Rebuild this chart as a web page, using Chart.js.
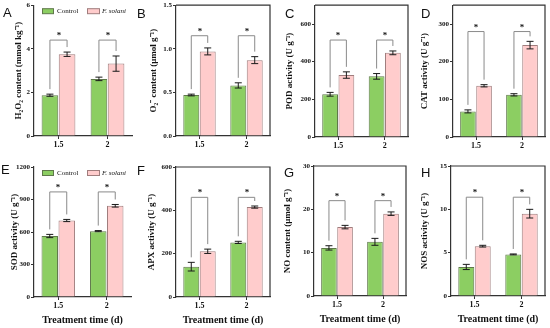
<!DOCTYPE html>
<html><head><meta charset="utf-8">
<script src="https://cdn.jsdelivr.net/npm/chart.js@4/dist/chart.umd.min.js"></script>
<style>
html,body{margin:0;padding:0;background:#fff;}
#wrap{position:relative;width:550px;height:328px;overflow:hidden;background:#fff;}
#wrap canvas{position:absolute;left:0;top:0;}
.lbl{position:absolute;font-family:'Liberation Sans',Arial,sans-serif;font-size:13px;line-height:13px;color:#111;}
</style></head><body>
<div id="wrap"></div>
<script>
// ---------- data ----------
const categories = ['1.5', '2'];
const seriesLabels = ['Control', 'F. solani'];

const h2o2Control = [1.87, 2.62], h2o2ControlSd = [0.05, 0.08];
const h2o2Fsolani = [3.75, 3.32], h2o2FsolaniSd = [0.10, 0.35];

const o2Control = [0.47, 0.58], o2ControlSd = [0.01, 0.03];
const o2Fsolani = [0.97, 0.87], o2FsolaniSd = [0.04, 0.04];

const podControl = [227, 322], podControlSd = [10, 15];
const podFsolani = [329, 447], podFsolaniSd = [17, 10];

const catControl = [68, 112], catControlSd = [4, 3];
const catFsolani = [136, 244], catFsolaniSd = [3, 10];

const sodControl = [563, 608], sodControlSd = [15, 5];
const sodFsolani = [706, 842], sodFsolaniSd = [10, 12];

const apxControl = [140, 252], apxControlSd = [20, 5];
const apxFsolani = [211, 415], apxFsolaniSd = [10, 5];

const noControl = [11.1, 12.5], noControlSd = [0.5, 0.8];
const noFsolani = [15.9, 19.0], noFsolaniSd = [0.4, 0.4];

const nosControl = [3.35, 4.8], nosControlSd = [0.3, 0.05];
const nosFsolani = [5.75, 9.5], nosFsolaniSd = [0.1, 0.5];

const panelLetters = ['A', 'B', 'C', 'D', 'E', 'F', 'G', 'H'];
const yTitles = [
  'H\u2082O\u2082 content (mmol kg\u207B\u00B9)',
  'O\u2082\u207B content (\u03BCmol g\u207B\u00B9)',
  'POD activity (U g\u207B\u00B9)',
  'CAT activity (U g\u207B\u00B9)',
  'SOD activity (U g\u207B\u00B9)',
  'APX activity (U g\u207B\u00B9)',
  'NO content (\u03BCmol g\u207B\u00B9)',
  'NOS activity (U g\u207B\u00B9)'
];
const yMax = [6, 1.5, 700, 350, 1200, 600, 30, 15];
const yStep = [2, 0.5, 200, 100, 300, 200, 10, 5];
const yDecimals = [0, 1, 0, 0, 0, 0, 0, 0];
const bracketLevels = [4.4, 1.15, 515, 280, 970, 460, 22, 11.4];
const xTitle = 'Treatment time (d)';

const controlSeries = [h2o2Control, o2Control, podControl, catControl, sodControl, apxControl, noControl, nosControl];
const controlSd = [h2o2ControlSd, o2ControlSd, podControlSd, catControlSd, sodControlSd, apxControlSd, noControlSd, nosControlSd];
const fsolaniSeries = [h2o2Fsolani, o2Fsolani, podFsolani, catFsolani, sodFsolani, apxFsolani, noFsolani, nosFsolani];
const fsolaniSd = [h2o2FsolaniSd, o2FsolaniSd, podFsolaniSd, catFsolaniSd, sodFsolaniSd, apxFsolaniSd, noFsolaniSd, nosFsolaniSd];

// ---------- layout (pixels) ----------
const layout = [
  {L: 34,  R: 132, T: 5,   B: 136, yw: 20.4, frame: false, legend: true,  xt: false, letter: [3, 5.6]},
  {L: 176, R: 270, T: 5,   B: 136, yw: 27.4, frame: true,  legend: false, xt: false, letter: [137, 6.6]},
  {L: 315, R: 408, T: 5,   B: 137, yw: 30.4, frame: true,  legend: false, xt: false, letter: [285, 6.6]},
  {L: 453, R: 545, T: 5,   B: 137, yw: 33.4, frame: true,  legend: false, xt: false, letter: [421, 6.6]},
  {L: 34,  R: 131, T: 167, B: 297, yw: 24.4, frame: false, legend: true,  xt: true,  letter: [1, 162.6]},
  {L: 176, R: 270, T: 167, B: 297, yw: 29.4, frame: true,  legend: false, xt: true,  letter: [137, 163.6]},
  {L: 314, R: 406, T: 166, B: 296, yw: 31.4, frame: true,  legend: false, xt: true,  letter: [284, 165.6]},
  {L: 451, R: 545, T: 166, B: 296, yw: 31.4, frame: true,  legend: false, xt: true,  letter: [421, 165.6]}
];

const GREEN = 'rgb(140,206,98)', GREEN_B = 'rgb(95,120,75)';
const PINK = 'rgb(255,204,204)', PINK_B = 'rgb(160,125,125)';
const AXIS = '#333';
const SERIF = "'Liberation Serif','Times New Roman',serif";

const extras = {
  id: 'extras',
  afterDatasetsDraw(chart, args, o) {
    const ctx = chart.ctx, y = chart.scales.y, ca = chart.chartArea;
    const ds = chart.data.datasets;
    const m0 = chart.getDatasetMeta(0), m1 = chart.getDatasetMeta(1);
    ctx.save();
    // error bars
    ds.forEach((d, di) => {
      const meta = chart.getDatasetMeta(di);
      d.data.forEach((v, i) => {
        const x = meta.data[i].x;
        const yt = y.getPixelForValue(v + d.sd[i]);
        const yb = y.getPixelForValue(v - d.sd[i]);
        ctx.strokeStyle = '#1a1a1a'; ctx.lineWidth = 1;
        ctx.beginPath();
        ctx.moveTo(x, yt); ctx.lineTo(x, yb);
        ctx.moveTo(x - 3.5, yt); ctx.lineTo(x + 3.5, yt);
        ctx.moveTo(x - 3.5, yb); ctx.lineTo(x + 3.5, yb);
        ctx.stroke();
      });
    });
    // significance brackets
    const lvl = y.getPixelForValue(o.bracket);
    categories.forEach((c, i) => {
      const xl = m0.data[i].x, xr = m1.data[i].x;
      const yl = y.getPixelForValue(ds[0].data[i] + ds[0].sd[i]) - 5;
      const yr = y.getPixelForValue(ds[1].data[i] + ds[1].sd[i]) - 5;
      ctx.strokeStyle = '#8a8a8a'; ctx.lineWidth = 1;
      ctx.beginPath();
      ctx.moveTo(xl, yl); ctx.lineTo(xl, lvl); ctx.lineTo(xr, lvl); ctx.lineTo(xr, yr);
      ctx.stroke();
      ctx.fillStyle = '#111';
      ctx.font = 'bold 9px ' + SERIF;
      ctx.textAlign = 'center'; ctx.textBaseline = 'alphabetic';
      ctx.fillText('*', Math.round((xl + xr) / 2), Math.round(lvl - 2));
    });
    // legend
    if (o.legend) {
      const ly = ca.top + 6;
      ctx.font = '7px ' + SERIF;
      ctx.textBaseline = 'middle'; ctx.textAlign = 'left';
      ctx.lineWidth = 1;
      ctx.fillStyle = GREEN; ctx.fillRect(ca.left + 8, ly - 2.5, 11, 5);
      ctx.strokeStyle = GREEN_B; ctx.strokeRect(ca.left + 8.5, ly - 2.5, 11, 5);
      ctx.fillStyle = '#111'; ctx.fillText(ds[0].label, ca.left + 23, ly);
      ctx.fillStyle = PINK; ctx.fillRect(ca.left + 53, ly - 2.5, 12, 5);
      ctx.strokeStyle = PINK_B; ctx.strokeRect(ca.left + 53.5, ly - 2.5, 12, 5);
      ctx.fillStyle = '#111'; ctx.font = 'italic 7px ' + SERIF;
      ctx.fillText(ds[1].label, ca.left + 68, ly);
    }
    ctx.restore();
  },
  afterDraw(chart, args, o) {
    if (!o.frame) return;
    const ctx = chart.ctx, ca = chart.chartArea;
    ctx.save();
    ctx.strokeStyle = AXIS; ctx.lineWidth = 1.2;
    ctx.beginPath();
    ctx.moveTo(ca.left, ca.top); ctx.lineTo(ca.right, ca.top); ctx.lineTo(ca.right, ca.bottom);
    ctx.stroke();
    ctx.restore();
  }
};

const wrap = document.getElementById('wrap');
layout.forEach((p, k) => {
  const cv = document.createElement('canvas');
  cv.width = 550; cv.height = 328;
  cv.style.width = '550px'; cv.style.height = '328px';
  wrap.appendChild(cv);
  const div = document.createElement('div');
  div.className = 'lbl'; div.textContent = panelLetters[k];
  div.style.left = p.letter[0] + 'px'; div.style.top = p.letter[1] + 'px';
  wrap.appendChild(div);
  const xh = p.xt ? 29 : 20;
  new Chart(cv, {
    type: 'bar',
    data: {
      labels: categories,
      datasets: [
        {label: seriesLabels[0], data: controlSeries[k], sd: controlSd[k], backgroundColor: GREEN, borderColor: GREEN_B, borderWidth: 1, barPercentage: 0.97, categoryPercentage: 0.7},
        {label: seriesLabels[1], data: fsolaniSeries[k], sd: fsolaniSd[k], backgroundColor: PINK, borderColor: PINK_B, borderWidth: 1, barPercentage: 0.97, categoryPercentage: 0.7}
      ]
    },
    options: {
      responsive: false, animation: false, devicePixelRatio: 1,
      events: [],
      layout: {padding: {left: p.L - p.yw, right: 550 - p.R, top: p.T, bottom: 328 - p.B - xh}},
      plugins: {legend: {display: false}, tooltip: {enabled: false}, title: {display: false},
        extras: {bracket: bracketLevels[k], legend: p.legend, frame: p.frame}},
      scales: {
        x: {
          grid: {drawOnChartArea: false, drawTicks: true, tickLength: 3, offset: false, color: AXIS, lineWidth: 1},
          border: {display: true, color: AXIS, width: 1.2},
          ticks: {padding: 1, color: '#111', font: {family: SERIF, size: 8, weight: 'bold'}, maxRotation: 0},
          title: {display: p.xt, text: xTitle, color: '#111', padding: 0, font: {family: SERIF, size: 10, weight: 'bold', lineHeight: 1.2}},
          afterFit: (s) => { s.height = xh; }
        },
        y: {
          min: 0, max: yMax[k],
          grid: {drawOnChartArea: false, drawTicks: true, tickLength: 3, color: AXIS, lineWidth: 1},
          border: {display: true, color: AXIS, width: 1.2},
          ticks: {stepSize: yStep[k], includeBounds: false, padding: 1, color: '#111',
            font: {family: SERIF, size: 7, weight: 'bold'},
            callback: (v) => Number(v).toFixed(yDecimals[k])},
          title: {display: true, text: yTitles[k], color: '#111', padding: 0, font: {family: SERIF, size: 9, weight: 'bold', lineHeight: 1.2}},
          afterFit: (s) => { s.width = p.yw; }
        }
      }
    },
    plugins: [extras]
  });
});
</script>
</body></html>
